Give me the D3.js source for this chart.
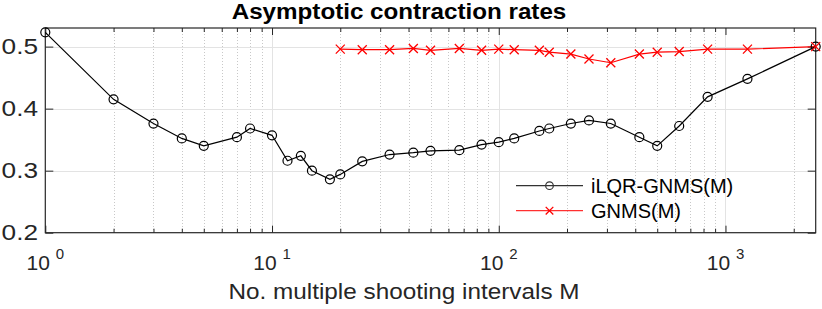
<!DOCTYPE html>
<html>
<head>
<meta charset="utf-8">
<script src="https://cdn.jsdelivr.net/npm/d3@7"></script>
<style>
  body { margin: 0; background: #fff; }
  svg { display: block; font-family: "Liberation Sans", Arial, Helvetica, sans-serif; }
</style>
</head>
<body>
<svg id="chart" width="822" height="309"></svg>
<script>
// Data
var mIlqr = [1, 2, 3, 4, 5, 7, 8, 10, 11.7, 13.4, 15, 18, 20, 25, 33, 42, 50, 67, 84, 100, 117, 151, 167, 208, 250, 312, 417, 500, 625, 834, 1250, 2500];
var rateIlqr = [0.523, 0.415, 0.376, 0.352, 0.340, 0.354, 0.368, 0.357, 0.316, 0.324, 0.300, 0.286, 0.294, 0.315, 0.326, 0.329, 0.332, 0.333, 0.342, 0.346, 0.352, 0.364, 0.368, 0.376, 0.381, 0.376, 0.354, 0.340, 0.372, 0.419, 0.448, 0.500];
var mGnms = [20, 25, 33, 42, 50, 67, 84, 100, 117, 151, 167, 208, 250, 312, 417, 500, 625, 834, 1250, 2500];
var rateGnms = [0.496, 0.495, 0.495, 0.497, 0.494, 0.497, 0.494, 0.496, 0.495, 0.494, 0.491, 0.488, 0.480, 0.474, 0.488, 0.491, 0.492, 0.496, 0.496, 0.500];
var xMajor = [1, 10, 100, 1000];
var xExp = ["0", "1", "2", "3"];
var yTicks = [0.2, 0.3, 0.4, 0.5];
var yLabels = ["0.2", "0.3", "0.4", "0.5"];
var seriesNames = ["iLQR-GNMS(M)", "GNMS(M)"];

var svg = d3.select("#chart");
// plot box (note: "top" clashes with window.top, so use pTop etc)
var pLeft = 45.3, pRight = 815.7, pTop = 28, pBottom = 232.7;

var x = d3.scaleLog().domain([1, 2500]).range([pLeft, pRight]);
var y = d3.scaleLinear().domain([0.2, 0.53]).range([pBottom, pTop]);

// minor x positions (2..9 per decade)
var xMinor = [];
xMajor.forEach(function(d){
    for (var k = 2; k <= 9; k++) {
        if (d * k < 2500) xMinor.push(d * k);
    }
});

var grid = svg.append("g");
//minor grid, dotted
grid.selectAll("line.minor").data(xMinor).enter().append("line")
    .attr("x1", function(d){ return Math.round(x(d)) + 0.5; })
    .attr("x2", function(d){ return Math.round(x(d)) + 0.5; })
    .attr("y1", pTop).attr("y2", pBottom)
    .attr("stroke", "#c8c8c8").attr("stroke-width", 1)
    .attr("stroke-dasharray", "1,2");
//major grid
grid.selectAll("line.mx").data(xMajor.slice(1)).enter().append("line")
    .attr("x1", function(d){ return Math.round(x(d)) + 0.5; })
    .attr("x2", function(d){ return Math.round(x(d)) + 0.5; })
    .attr("y1", pTop).attr("y2", pBottom)
    .attr("stroke", "#e3e3e3").attr("stroke-width", 1);
grid.selectAll("line.my").data(yTicks.slice(1)).enter().append("line")
    .attr("x1", pLeft).attr("x2", pRight)
    .attr("y1", function(d){ return Math.round(y(d)) + 0.5; })
    .attr("y2", function(d){ return Math.round(y(d)) + 0.5; })
    .attr("stroke", "#e3e3e3").attr("stroke-width", 1);

// axes with inward ticks
var axisColor = "#262626";
function styleAxis(g){
    g.select(".domain").remove();
    g.selectAll("line").attr("stroke", axisColor);
    g.selectAll("text").remove();
}
svg.append("g").attr("transform", "translate(0," + pBottom + ")")
    .call(d3.axisTop(x).tickValues(xMajor).tickSize(7)).call(styleAxis);
svg.append("g").attr("transform", "translate(0," + pBottom + ")")
    .call(d3.axisTop(x).tickValues(xMinor).tickSize(4)).call(styleAxis);
svg.append("g").attr("transform", "translate(0," + pTop + ")")
    .call(d3.axisBottom(x).tickValues(xMajor).tickSize(7)).call(styleAxis);
svg.append("g").attr("transform", "translate(0," + pTop + ")")
    .call(d3.axisBottom(x).tickValues(xMinor).tickSize(4)).call(styleAxis);
svg.append("g").attr("transform", "translate(" + pLeft + ",0)")
    .call(d3.axisRight(y).tickValues(yTicks).tickSize(8)).call(styleAxis);
svg.append("g").attr("transform", "translate(" + pRight + ",0)")
    .call(d3.axisLeft(y).tickValues(yTicks).tickSize(8)).call(styleAxis);

svg.append("rect")
    .attr("x", pLeft).attr("y", pTop)
    .attr("width", pRight - pLeft).attr("height", pBottom - pTop)
    .attr("fill", "none").attr("stroke", axisColor).attr("stroke-width", 1.2);

// tick labels (reference glyphs look a bit wider, so stretch horizontally)
svg.selectAll("text.ylab").data(yTicks).enter().append("text")
    .attr("transform", function(d){ return "translate(38," + y(d) + ") scale(1.22,1)"; })
    .attr("dy", "0.36em")
    .attr("text-anchor", "end")
    .attr("font-size", 21.5)
    .attr("fill", axisColor)
    .text(function(d, i){ return yLabels[i]; });

var xl = svg.selectAll("text.xlab").data(xMajor).enter().append("text")
    .attr("x", function(d){ return x(d); })
    .attr("y", 270)
    .attr("text-anchor", "middle")
    .attr("font-size", 21)
    .attr("fill", axisColor);
xl.append("tspan").text("10 ");
xl.append("tspan").attr("dy", -11).attr("font-size", 15)
    .text(function(d, i){ return xExp[i]; });

// title and axis label
svg.append("text")
    .attr("transform", "translate(399,19) scale(1.1,1)")
    .attr("text-anchor", "middle")
    .attr("font-size", 22).attr("font-weight", "bold")
    .attr("fill", "#000")
    .text("Asymptotic contraction rates");
svg.append("text")
    .attr("transform", "translate(404,299) scale(1.13,1)")
    .attr("text-anchor", "middle")
    .attr("font-size", 21.5)
    .attr("fill", axisColor)
    .text("No. multiple shooting intervals M");

// series
var ilqr = mIlqr.map(function(m, i){ return [m, rateIlqr[i]]; });
var gnms = mGnms.map(function(m, i){ return [m, rateGnms[i]]; });
var line = d3.line().x(function(d){ return x(d[0]); }).y(function(d){ return y(d[1]); });

svg.append("path").datum(gnms).attr("d", line)
    .attr("fill", "none").attr("stroke", "#ff0000").attr("stroke-width", 1.2);
svg.append("path").datum(ilqr).attr("d", line)
    .attr("fill", "none").attr("stroke", "#000").attr("stroke-width", 1.2);

function cross(g, s){
    g.append("path")
        .attr("d", "M" + (-s) + "," + (-s) + "L" + s + "," + s + "M" + (-s) + "," + s + "L" + s + "," + (-s))
        .attr("stroke", "#ff0000").attr("stroke-width", 1.3).attr("fill", "none");
}
svg.selectAll("circle.pt").data(ilqr).enter().append("circle")
    .attr("cx", function(d){ return x(d[0]); })
    .attr("cy", function(d){ return y(d[1]); })
    .attr("r", 4.5)
    .attr("fill", "none").attr("stroke", "#000").attr("stroke-width", 1.2);
svg.selectAll("g.cross").data(gnms).enter().append("g")
    .attr("transform", function(d){ return "translate(" + x(d[0]) + "," + y(d[1]) + ")"; })
    .each(function(){ cross(d3.select(this), 4.5); });

// legend (no box)
var legend = svg.append("g");
var rows = [185.7, 210.7];
legend.append("line").attr("x1", 516).attr("x2", 583).attr("y1", rows[0]).attr("y2", rows[0])
    .attr("stroke", "#333").attr("stroke-width", 1.2);
legend.append("circle").attr("cx", 549.5).attr("cy", rows[0]).attr("r", 3.8)
    .attr("fill", "none").attr("stroke", "#333").attr("stroke-width", 1.2);
legend.append("line").attr("x1", 516).attr("x2", 583).attr("y1", rows[1]).attr("y2", rows[1])
    .attr("stroke", "#ff3030").attr("stroke-width", 1.2);
cross(legend.append("g").attr("transform", "translate(549.5," + rows[1] + ")"), 3.8);
legend.selectAll("text.leg").data(seriesNames).enter().append("text")
    .attr("x", 591).attr("y", function(d, i){ return rows[i]; })
    .attr("dy", "0.36em")
    .attr("font-size", 20)
    .attr("fill", "#000")
    .text(function(d){ return d; });
</script>
</body>
</html>
